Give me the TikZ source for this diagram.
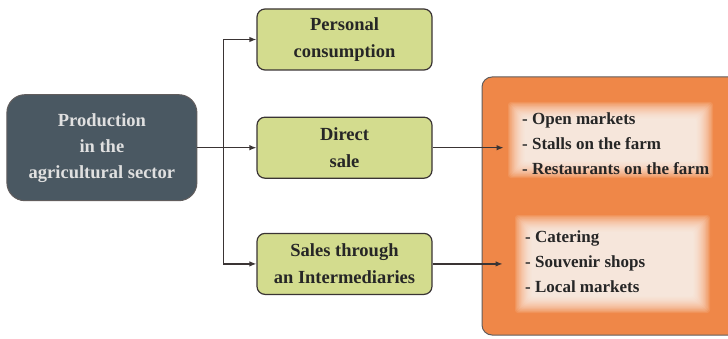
\documentclass[tikz,border=0pt]{standalone}
\usepackage{fontspec}
\setmainfont{Liberation Serif}
\usetikzlibrary{positioning,arrows.meta}

\definecolor{slatebox}{HTML}{4A5862}
\definecolor{limebox}{HTML}{D3DC8E}
\definecolor{orangebox}{HTML}{EF8748}
\definecolor{inkline}{HTML}{3A3434}

\tikzset{
  source/.style={draw=inkline!80, fill=slatebox, rounded corners=18pt, line width=1pt,
    minimum width=190pt, minimum height=106pt, align=center, text=white!88!black,
    font=\bfseries\fontsize{18.5}{26}\selectfont},
  channel/.style={draw=inkline, fill=limebox, rounded corners=8pt, line width=1.2pt,
    minimum width=175pt, minimum height=61pt, align=center, text=black!85,
    font=\bfseries\fontsize{18.5}{27}\selectfont},
  outlet/.style={align=left, inner sep=0pt, text=black!85,
    font=\bfseries\fontsize{17}{25}\selectfont},
  link/.style={draw=inkline, line width=1.2pt, -{Latex[length=7pt,width=5.5pt]}}
}

\begin{document}
\begin{tikzpicture}[x=1pt, y=1pt]
        \useasboundingbox (0,0) rectangle (728,338);
        \clip (0,0) rectangle (728,338);

        % Nodes for the channels
        \node [channel] (personal) at (344.5,298.5) {Personal\\consumption};
        \node [channel, below=46pt of personal] (direct) {Direct\\sale};
        \node [channel, below=54pt of direct] (sales) {Sales through\\an Intermediaries};
        \node [source, left=59pt of direct] (production) {Production\\in the\\agricultural sector};

        % Outlet panel
        \draw [draw=inkline!80, fill=orangebox, rounded corners=10pt, line width=1pt] (482,3) rectangle (740,261);
        \foreach \i in {0,...,15} {
            \fill [white, fill opacity=0.1, rounded corners=3pt] ({508+\i*1.1},{160+\i*1.1}) rectangle ({713-\i*1.1},{236-\i*1.1});
            \fill [white, fill opacity=0.1, rounded corners=3pt] ({515+\i*1.1},{25+\i*1.1}) rectangle ({710-\i*1.1},{123-\i*1.1});
        }
        \node [outlet, anchor=west] (directlist) at (522,194) {- Open markets\\- Stalls on the farm\\- Restaurants on the farm};
        \node [outlet, anchor=west] (agentlist) at (525,76) {- Catering\\- Souvenir shops\\- Local markets};

        % Arrows
        \coordinate (fork) at ([xshift=-33pt]direct.west);
        \coordinate (directin) at ([xshift=71pt]direct.east);
        \coordinate (agentin) at ([xshift=70pt]sales.east);
        \draw [link] (production.east) -- (direct.west);
        \draw [link] (fork) |- (personal.west);
        \draw [link] (fork) |- (sales.west);
        \draw [link] (direct.east) -- (directin);
        \draw [link] (sales.east) -- (agentin);
    \end{tikzpicture}
\end{document}
